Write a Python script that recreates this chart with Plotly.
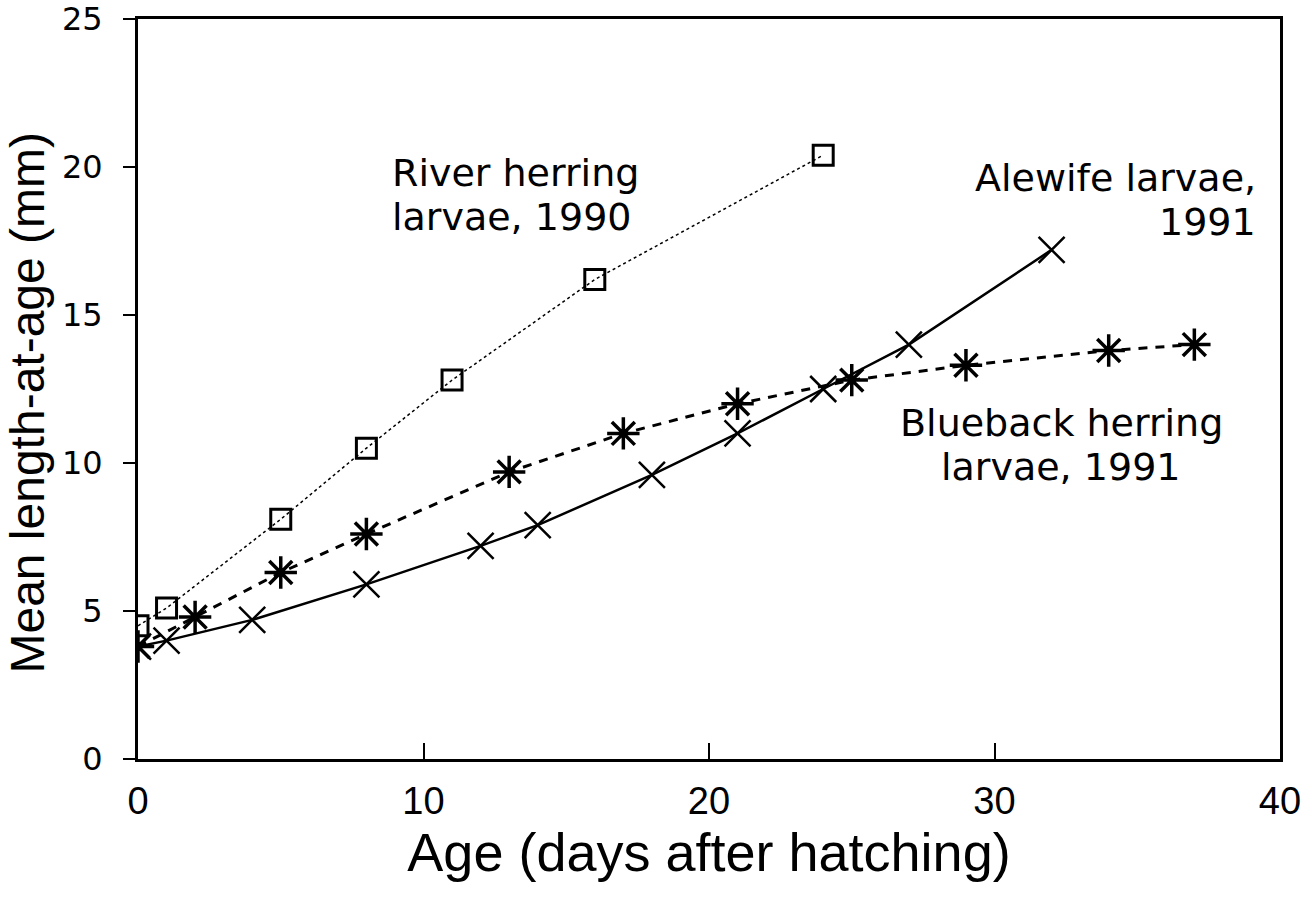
import plotly.graph_objects as go

# Mean length-at-age of herring larvae
river_age = [0, 1, 5, 8, 11, 16, 24]
river_len = [4.5, 5.1, 8.1, 10.5, 12.8, 16.2, 20.4]

alewife_age = [0, 1, 4, 8, 12, 14, 18, 21, 24, 27, 32]
alewife_len = [3.8, 4.0, 4.7, 5.9, 7.2, 7.9, 9.6, 11.0, 12.5, 14.0, 17.2]

blueback_age = [0, 2, 5, 8, 13, 17, 21, 25, 29, 34, 37]
blueback_len = [3.8, 4.8, 6.3, 7.6, 9.7, 11.0, 12.0, 12.8, 13.3, 13.8, 14.0]

# Curve labels: (lines, x, y of first line, anchor)
labels = [
    (["River herring", "larvae, 1990"], 8.83, 19.8, "left"),
    (["Alewife larvae,", "1991"], 39.23, 19.63, "right"),
    (["Blueback herring", "larvae, 1991"], 32.33, 11.35, "center"),
]
LINE_STEP = 1.5  # vertical spacing between label lines, in mm units

WIDE = "DejaVu Sans"
BODY = "Liberation Sans"
INK = "black"

fig = go.Figure()

fig.add_trace(go.Scatter(
    x=river_age, y=river_len, mode="lines+markers",
    line=dict(color=INK, width=1.5, dash="dot"),
    marker=dict(symbol="square-open", size=20, color=INK, line=dict(width=3)),
    showlegend=False))

fig.add_trace(go.Scatter(
    x=alewife_age, y=alewife_len, mode="lines+markers",
    line=dict(color=INK, width=2.5),
    marker=dict(symbol="x-thin-open", size=26, color=INK, line=dict(width=2.5, color=INK)),
    showlegend=False))

fig.add_trace(go.Scatter(
    x=blueback_age, y=blueback_len, mode="lines+markers",
    line=dict(color=INK, width=3, dash="9px,8px"),
    marker=dict(symbol="asterisk-open", size=27, color=INK, line=dict(width=3.5, color=INK)),
    showlegend=False))

ann_font = dict(family=WIDE, size=38, color=INK)
for lines, lx, ly, anchor in labels:
    for i, line in enumerate(lines):
        fig.add_annotation(x=lx, y=ly - i * LINE_STEP, xref="x", yref="y", text=line,
                           showarrow=False, xanchor=anchor, yanchor="middle",
                           align=anchor, font=ann_font)

# Y-axis title, placed close to the tick labels
fig.add_annotation(x=-0.097, y=0.482, xref="paper", yref="paper",
                   text="Mean length-at-age (mm)", textangle=-90, showarrow=False,
                   xanchor="center", yanchor="middle",
                   font=dict(family=BODY, size=48, color=INK))

fig.update_layout(
    width=1312, height=900,
    margin=dict(l=138, r=32, t=19, b=141),
    paper_bgcolor="white", plot_bgcolor="white",
    font=dict(family=BODY, color=INK),
)

fig.update_xaxes(
    range=[0, 40], tickvals=[0, 10, 20, 30, 40],
    ticks="inside", ticklen=16, tickwidth=2, tickcolor=INK,
    showline=True, linewidth=3, linecolor=INK, mirror=True,
    showgrid=False, zeroline=False, automargin=False,
    ticklabeloverflow="allow",
    tickfont=dict(family=BODY, size=38, color=INK), ticklabelstandoff=6,
    title=dict(text="Age (days after hatching)", font=dict(family=BODY, size=54, color=INK), standoff=12),
)
fig.update_yaxes(
    range=[0, 25], tickvals=[0, 5, 10, 15, 20, 25],
    ticks="outside", ticklen=12, tickwidth=2, tickcolor=INK,
    showline=True, linewidth=3, linecolor=INK, mirror=True,
    showgrid=False, zeroline=False, automargin=False,
    ticklabeloverflow="allow",
    tickfont=dict(family=WIDE, size=32, color=INK), ticklabelstandoff=14,
)

fig.write_html("out.html")
